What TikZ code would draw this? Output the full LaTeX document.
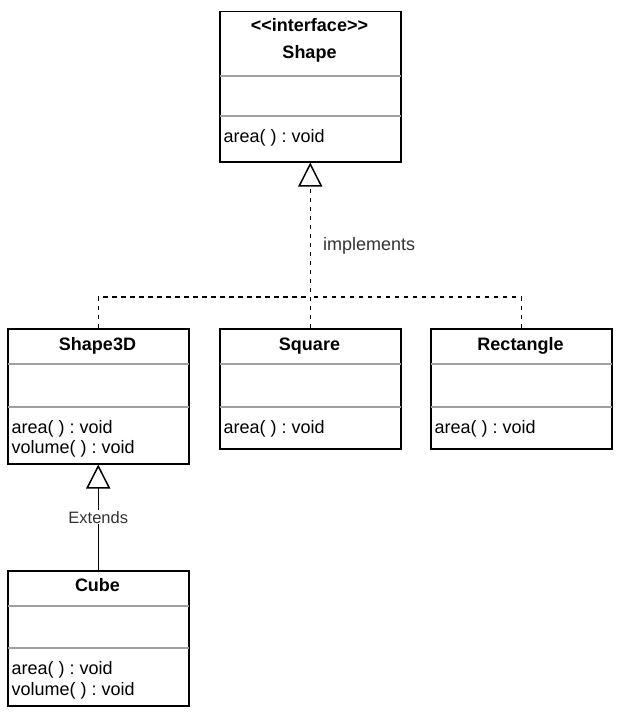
\documentclass[tikz,border=0pt]{standalone}
\usepackage{fontspec}
\setmainfont{Liberation Sans}
\usetikzlibrary{arrows.meta}
\definecolor{sepc}{HTML}{A0A0A0}
\definecolor{lblc}{HTML}{333333}
\frenchspacing
\tikzset{
  cls/.style={draw, line width=1.5pt, anchor=north west, minimum width=181pt, inner sep=0pt, fill=white},
  sepline/.style={draw=sepc, line width=1.2pt, shorten <=0.75pt, shorten >=0.75pt},
  ttl/.style={anchor=base, inner sep=0pt, font=\fontsize{18}{21}\selectfont\bfseries},
  mem/.style={anchor=base west, inner sep=0pt, font=\fontsize{18}{21}\selectfont},
  rel/.style={line width=1.5pt},
  realize/.style={rel, dash pattern=on 4.5pt off 4.5pt},
  hollow/.style={-{Triangle[open, length=24pt, width=24pt, line width=1.5pt]}},
  elbl/.style={fill=white, inner sep=1pt, text=lblc, font=\fontsize{16.5}{19}\selectfont},
  flbl/.style={anchor=base west, inner sep=0pt, text=lblc, font=\fontsize{18}{21}\selectfont}
}
\begin{document}
\frenchspacing
\begin{tikzpicture}[x=1pt,y=-1pt]
\fill[white] (0,0) rectangle (617,717);
\useasboundingbox (0,0) rectangle (617,717);

% Shape interface
\node[cls, minimum height=150pt] (shape) at (219,11) {};
\draw[sepline] (shape.west |- 0,76) -- (shape.east |- 0,76);
\draw[sepline] (shape.west |- 0,116) -- (shape.east |- 0,116);
\node[ttl] (shapest) at (309.5,32) {<\kern0pt<interface>\kern0pt>};
\node[ttl] (shapet) at (309.5,59) {Shape};
\node[mem] (shapem1) at (223.5,142) {area( ) : void};

% Shape3D
\node[cls, minimum height=135pt] (s3d) at (7,328) {};
\draw[sepline] (s3d.west |- 0,364) -- (s3d.east |- 0,364);
\draw[sepline] (s3d.west |- 0,407) -- (s3d.east |- 0,407);
\node[ttl] (s3dt) at (97.5,350) {Shape3D};
\node[mem] (s3dm1) at (11.5,433) {area( ) : void};
\node[mem] (s3dm2) at (11.5,453.5) {volume( ) : void};

% Square
\node[cls, minimum height=120pt] (sq) at (219,328) {};
\draw[sepline] (sq.west |- 0,364) -- (sq.east |- 0,364);
\draw[sepline] (sq.west |- 0,407) -- (sq.east |- 0,407);
\node[ttl] (sqt) at (309.5,350) {Square};
\node[mem] (sqm1) at (223.5,433) {area( ) : void};

% Rectangle
\node[cls, minimum height=120pt] (rect) at (430,328) {};
\draw[sepline] (rect.west |- 0,364) -- (rect.east |- 0,364);
\draw[sepline] (rect.west |- 0,407) -- (rect.east |- 0,407);
\node[ttl] (rectt) at (520.5,350) {Rectangle};
\node[mem] (rectm1) at (434.5,433) {area( ) : void};

% Cube
\node[cls, minimum height=135pt] (cube) at (7,570) {};
\draw[sepline] (cube.west |- 0,606) -- (cube.east |- 0,606);
\draw[sepline] (cube.west |- 0,648) -- (cube.east |- 0,648);
\node[ttl] (cubet) at (97.5,591) {Cube};
\node[mem] (cubem1) at (11.5,674.5) {area( ) : void};
\node[mem] (cubem2) at (11.5,695) {volume( ) : void};

% implements connectors
\coordinate (bus) at (309.5,297);
\draw[realize] (s3d.north) |- (bus);
\draw[realize] (rect.north) |- (bus);
\draw[realize, hollow] (sq.north) -- (shape.south);
\node[flbl] (impl) at (323,250) {implements};

% extends connector
\draw[rel, hollow] (cube.north) -- node[elbl, pos=0.5] (ext) {Extends} (s3d.south);
\end{tikzpicture}
\end{document}
